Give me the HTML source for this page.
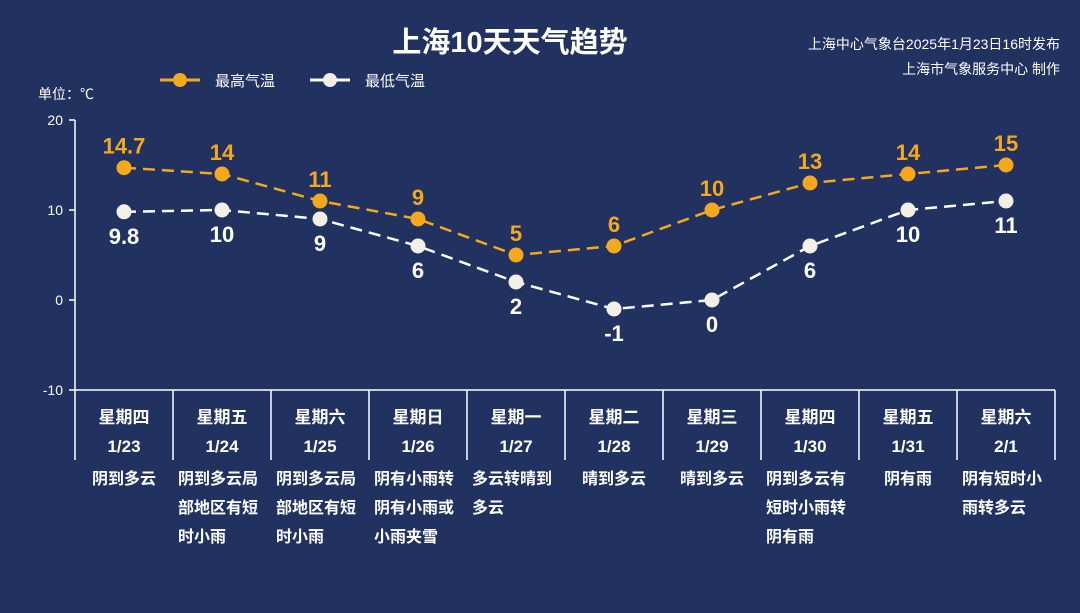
<!DOCTYPE html>
<html><head><meta charset="utf-8"><style>
html,body{margin:0;padding:0;background:#213160;}
svg{display:block;font-family:"Liberation Sans","Noto Sans CJK SC",sans-serif;}
</style></head><body>
<svg id="chart" width="1080" height="613" viewBox="0 0 1080 613">
<rect width="1080" height="613" fill="#213160"/>
<text x="510" y="52" text-anchor="middle" fill="#fff" font-size="29" font-weight="bold">上海10天天气趋势</text>
<text x="1060" y="49" text-anchor="end" fill="#fff" font-size="14">上海中心气象台2025年1月23日16时发布</text>
<text x="1060" y="74" text-anchor="end" fill="#fff" font-size="14">上海市气象服务中心 制作</text>
<text x="38" y="99" fill="#fff" font-size="14">单位：℃</text>
<g>
<line x1="160" y1="80" x2="200" y2="80" stroke="#f5a81c" stroke-width="3"/>
<circle cx="180" cy="80" r="7" fill="#f5a81c"/>
<text x="215" y="86" fill="#fff" font-size="15">最高气温</text></g>
<g>
<line x1="310" y1="80" x2="350" y2="80" stroke="#fff" stroke-width="3"/>
<circle cx="330" cy="80" r="7" fill="#f3efe6"/>
<text x="365" y="86" fill="#fff" font-size="15">最低气温</text></g>
<g id="axis"></g><g id="table"></g><g id="series"></g>
</svg>
<script>
const days=["星期四","星期五","星期六","星期日","星期一","星期二","星期三","星期四","星期五","星期六"];
const dates=["1/23","1/24","1/25","1/26","1/27","1/28","1/29","1/30","1/31","2/1"];
const descs=[["阴到多云"],["阴到多云局","部地区有短","时小雨"],["阴到多云局","部地区有短","时小雨"],["阴有小雨转","阴有小雨或","小雨夹雪"],["多云转晴到","多云"],["晴到多云"],["晴到多云"],["阴到多云有","短时小雨转","阴有雨"],["阴有雨"],["阴有短时小","雨转多云"]];
const highs=[14.7,14,11,9,5,6,10,13,14,15];
const lows=[9.8,10,9,6,2,-1,0,6,10,11];
const ticks=[20,10,0,-10];
const NS="http://www.w3.org/2000/svg";
const X0=75,CW=98,Y20=120;
const xs=i=>X0+CW*(i+0.5);
const ys=v=>Y20+(20-v)*9;
function mk(tag,attrs,parent,txt){const e=document.createElementNS(NS,tag);for(const k in attrs)e.setAttribute(k,attrs[k]);if(txt!==undefined)e.textContent=txt;parent.appendChild(e);return e;}
const ax=document.getElementById('axis'),tb=document.getElementById('table'),sr=document.getElementById('series');
let e=mk('line',{x1:X0,y1:ys(20),x2:X0,y2:460,stroke:'#fff','stroke-width':1.5},ax);


ticks.forEach(t=>{
 let l=mk('line',{x1:X0-6,y1:ys(t),x2:X0,y2:ys(t),stroke:'#fff','stroke-width':1.5},ax);
 
 
 let tx=mk('text',{x:X0-12,y:ys(t)+5,'text-anchor':'end',fill:'#fff','font-size':14},ax,String(t));
 
 
});
e=mk('line',{x1:X0,y1:ys(-10),x2:X0+CW*days.length,y2:ys(-10),stroke:'#fff','stroke-width':1.5},tb);


days.forEach((d,i)=>{
 let s=mk('line',{x1:X0+CW*(i+1),y1:390,x2:X0+CW*(i+1),y2:460,stroke:'#fff','stroke-width':1.5},tb);
 
 
 let t=mk('text',{x:xs(i),y:423,'text-anchor':'middle',fill:'#fff','font-size':17,'font-weight':'bold'},tb,d);
 
 
 t=mk('text',{x:xs(i),y:452,'text-anchor':'middle',fill:'#fff','font-size':17,'font-weight':'bold'},tb,dates[i]);
 
 
 descs[i].forEach((ln,j)=>{
  let q=mk('text',{x:X0+CW*i+(descs[i].length==1?CW/2:5),y:484+j*29,'text-anchor':descs[i].length==1?'middle':'start',fill:'#fff','font-size':16,'font-weight':'bold'},tb,ln);
  
  
 });
});
function series(vals,color,ptColor,above,name){
 let p=mk('polyline',{points:vals.map((v,i)=>xs(i)+','+ys(v)).join(' '),fill:'none',stroke:color,'stroke-width':2.5,'stroke-dasharray':'12 7'},sr);
 
 
 vals.forEach((v,i)=>{
  let c=mk('circle',{cx:xs(i),cy:ys(v),r:7.5,fill:ptColor},sr);
  
  
  let t=mk('text',{x:xs(i),y:above?ys(v)-14:ys(v)+32,'text-anchor':'middle',fill:above?color:'#fff','font-size':22,'font-weight':'bold'},sr,String(v));
  
  
 });
}
series(lows,'#ffffff','#f3efe6',false,'low-temp');
series(highs,'#f5a81c','#f5a81c',true,'high-temp');
</script>
</body></html>
